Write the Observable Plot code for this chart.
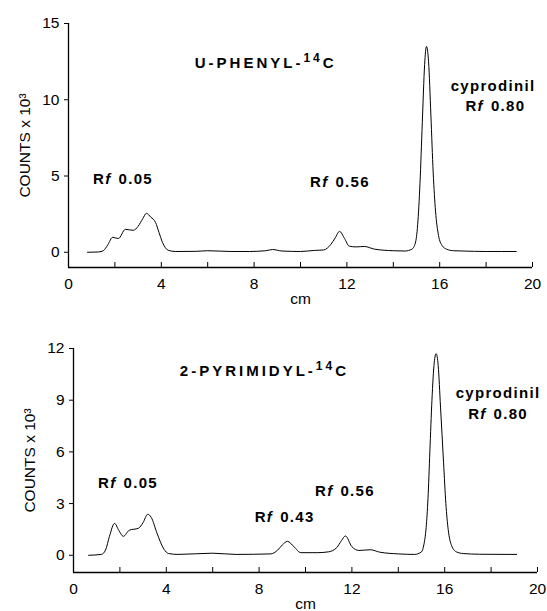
<!DOCTYPE html>
<html>
<head>
<meta charset="utf-8">
<script src="https://cdn.jsdelivr.net/npm/d3@7"></script>
<script src="https://cdn.jsdelivr.net/npm/@observablehq/plot@0.6"></script>
<style>
  html, body { margin: 0; padding: 0; background: #fff; }
  #wrap { position: relative; width: 547px; height: 611px; }
  #wrap svg { position: absolute; left: 0; overflow: visible; }
  g.annot-title text { letter-spacing: 3px; }
  g.annot text { letter-spacing: 1.3px; }
</style>
</head>
<body>
<div id="wrap"></div>
<script>
// ---- Data (x in cm, y in counts x 10^3) ----
const phenylX = [0.82, 1.3, 1.5, 1.7, 1.9, 2.15, 2.45, 2.8, 3.0, 3.2, 3.36, 3.55, 3.75, 3.9, 4.05, 4.3, 4.6, 5.5, 6.0, 7.0, 7.8, 8.5, 8.8, 9.2, 10.0, 10.6, 11.0, 11.3, 11.5, 11.68, 11.9, 12.1, 12.4, 12.75, 13.2, 14.0, 14.5, 14.8, 14.95, 15.05, 15.15, 15.25, 15.35, 15.43, 15.52, 15.62, 15.72, 15.82, 15.95, 16.1, 16.3, 16.6, 17.0, 18.0, 19.3];
const phenylY = [0.0, 0.02, 0.1, 0.5, 0.98, 0.9, 1.5, 1.44, 1.7, 2.2, 2.55, 2.3, 1.96, 1.3, 0.65, 0.13, 0.05, 0.06, 0.1, 0.05, 0.05, 0.1, 0.18, 0.08, 0.05, 0.12, 0.15, 0.5, 0.95, 1.37, 0.9, 0.4, 0.35, 0.38, 0.2, 0.1, 0.08, 0.2, 0.6, 1.8, 4.5, 8.5, 12.3, 13.5, 12.5, 9.0, 5.2, 2.7, 1.1, 0.45, 0.2, 0.1, 0.08, 0.05, 0.05];

const pyrimX = [0.65, 1.2, 1.38, 1.55, 1.77, 1.95, 2.15, 2.4, 2.8, 3.0, 3.2, 3.35, 3.6, 3.9, 4.1, 4.5, 6.0, 7.0, 8.5, 8.8, 9.0, 9.22, 9.5, 9.8, 10.5, 11.0, 11.35, 11.55, 11.72, 12.0, 12.3, 12.8, 13.2, 14.0, 14.7, 15.0, 15.1, 15.2, 15.28, 15.36, 15.45, 15.55, 15.63, 15.72, 15.82, 15.95, 16.05, 16.15, 16.3, 16.5, 16.8, 17.5, 19.1];
const pyrimY = [0.0, 0.05, 0.3, 1.1, 1.85, 1.45, 1.1, 1.45, 1.57, 1.9, 2.38, 2.2, 1.28, 0.35, 0.1, 0.05, 0.12, 0.05, 0.08, 0.3, 0.6, 0.81, 0.5, 0.15, 0.15, 0.2, 0.45, 0.85, 1.12, 0.5, 0.28, 0.32, 0.18, 0.08, 0.05, 0.2, 0.6, 1.6, 3.3, 6.0, 9.0, 11.2, 11.7, 11.0, 8.6, 5.4, 3.0, 1.5, 0.55, 0.2, 0.1, 0.06, 0.05];

// tick values
const xTicks = [0, 2, 4, 6, 8, 10, 12, 14, 16, 18, 20];
const phenylYTicks = [0, 5, 10, 15];
const pyrimYTicks = [0, 3, 6, 9, 12];

// annotations (text, x cm, y counts)
const phenylTitle = [{text: "U-PHENYL-14C", x: 8.5, y: 12.4}];
const phenylLabels = [
  {text: "Rf 0.05", x: 2.35, y: 4.8},
  {text: "Rf 0.56", x: 11.7, y: 4.6},
  {text: "cyprodinil", x: 18.3, y: 10.9},
  {text: "Rf 0.80", x: 18.4, y: 9.55}
];
const pyrimTitle = [{text: "2-PYRIMIDYL-14C", x: 8.23, y: 10.7}];
const pyrimLabels = [
  {text: "Rf 0.05", x: 2.35, y: 4.2},
  {text: "Rf 0.43", x: 9.1, y: 2.2},
  {text: "Rf 0.56", x: 11.7, y: 3.7},
  {text: "cyprodinil", x: 18.3, y: 9.4},
  {text: "Rf 0.80", x: 18.3, y: 8.2}
];

const FONT = "'Liberation Sans', Arial, Helvetica, sans-serif";

function richify(svg) {
  d3.select(svg).selectAll("g.annot text, g.annot-title text").each(function() {
    const t = this.textContent;
    const sel = d3.select(this);
    let m;
    if ((m = t.match(/^Rf\s+(.*)$/))) {
      sel.text(null);
      sel.append("tspan").text("R");
      sel.append("tspan").attr("font-style", "italic").text("f");
      sel.append("tspan").attr("dx", 7).text(m[1]);
    } else if ((m = t.match(/^(.*-)14C$/))) {
      sel.text(null);
      sel.append("tspan").text(m[1]);
      sel.append("tspan").attr("dy", -6).attr("font-size", 12).text("14");
      sel.append("tspan").attr("dy", 6).text("C");
    }
  });
}

function chart(xs, ys, yTicks, yMax, title, labels, opts) {
  const data = xs.map((x, i) => ({x, y: ys[i]}));
  const svg = Plot.plot({
    width: 547,
    height: opts.height,
    marginTop: opts.marginTop,
    marginBottom: opts.marginBottom,
    marginLeft: opts.marginLeft,
    marginRight: opts.marginRight,
    style: {fontFamily: FONT, fontSize: "15px", color: "#000", background: "#fff"},
    x: {domain: [0, 20]},
    y: {domain: [-1, yMax]},
    marks: [
      Plot.axisY({ticks: yTicks, tickSize: 4, tickPadding: 5, fontSize: 15.5,
        label: "COUNTS x 10³", labelAnchor: "center", labelArrow: "none", labelOffset: 50}),
      Plot.axisX({ticks: xTicks, tickSize: -5, tickPadding: 15, fontSize: 15.5,
        tickFormat: d => (d % 4 === 0 ? String(d) : ""),
        label: "cm", labelAnchor: "center", labelArrow: "none", labelOffset: 36}),
      Plot.ruleX([0], {strokeWidth: 1.3}),
      Plot.ruleY([-1], {strokeWidth: 1.3}),
      Plot.line(data, {x: "x", y: "y", stroke: "#000", strokeWidth: 1, curve: "monotone-x"}),
      Plot.text(title, {x: "x", y: "y", text: "text", className: "annot-title",
        fontWeight: "bold", fontSize: 15, fill: "#000"}),
      Plot.text(labels, {x: "x", y: "y", text: "text", className: "annot",
        fontWeight: "bold", fontSize: 15, fill: "#000"})
    ]
  });
  richify(svg);
  svg.style.top = opts.top + "px";
  return svg;
}

const wrap = document.getElementById("wrap");
wrap.appendChild(chart(phenylX, phenylY, phenylYTicks, 15, phenylTitle, phenylLabels,
  {top: 0, height: 305, marginTop: 23, marginBottom: 38, marginLeft: 68, marginRight: 15}));
wrap.appendChild(chart(pyrimX, pyrimY, pyrimYTicks, 12, pyrimTitle, pyrimLabels,
  {top: 305, height: 306, marginTop: 43, marginBottom: 39, marginLeft: 73, marginRight: 10}));
</script>
</body>
</html>
